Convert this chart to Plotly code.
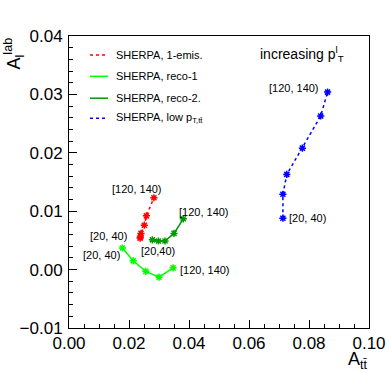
import plotly.graph_objects as go

# pT bins [20,40) ... [120,140)
red_x = [0.0237, 0.0238, 0.0240, 0.0251, 0.0258, 0.0283]
red_y = [0.0054, 0.0056, 0.0062, 0.0076, 0.0092, 0.0123]

reco1_x = [0.0178, 0.0214, 0.0256, 0.0300, 0.0347]
reco1_y = [0.0037, 0.0015, -0.0003, -0.0013, 0.0003]

reco2_x = [0.0278, 0.0298, 0.0320, 0.0350, 0.0381]
reco2_y = [0.0051, 0.0049, 0.0049, 0.0062, 0.0087]

blue_x = [0.0713, 0.0713, 0.0726, 0.0778, 0.0839, 0.0862]
blue_y = [0.0088, 0.0129, 0.0163, 0.0208, 0.0263, 0.0304]

FONT = "Liberation Sans"

series = [
    ("SHERPA, 1-emis.", red_x, red_y, "#ff0000", "dot"),
    ("SHERPA, reco-1", reco1_x, reco1_y, "#00ff00", "solid"),
    ("SHERPA, reco-2.", reco2_x, reco2_y, "#009900", "solid"),
    ("SHERPA, low p<sub>T,tt̄</sub>", blue_x, blue_y, "#0000ff", "dot"),
]

fig = go.Figure()
for name, xs, ys, color, dash in series:
    fig.add_trace(go.Scatter(
        x=xs, y=ys, mode="lines+markers", name=name, showlegend=False,
        line={"color": color, "dash": dash, "width": 1.5},
        marker={"symbol": "asterisk-open", "size": 6, "color": color,
                "line": {"color": color, "width": 1.5}},
    ))

# hand-drawn legend, ROOT style
legend_rows = [0.935, 0.862, 0.787, 0.718]
for (name, xs, ys, color, dash), yp in zip(series, legend_rows):
    fig.add_shape(type="line", xref="paper", yref="paper",
                  x0=0.07, x1=0.13, y0=yp, y1=yp,
                  line={"color": color, "dash": dash, "width": 1.5})
    fig.add_annotation(xref="paper", yref="paper", x=0.15, y=yp, text=name,
                       showarrow=False, xanchor="left", yanchor="middle",
                       font={"size": 11, "family": FONT, "color": "black"})

labels = [
    (0.0228, 0.0138, "[120, 140)", "center"),
    (0.0200, 0.0058, "[20, 40)", "right"),
    (0.0177, 0.0025, "[20, 40)", "right"),
    (0.0295, 0.0032, "[20,40)", "center"),
    (0.0360, 0.0099, "[120, 140)", "left"),
    (0.0363, 0.0000, "[120, 140)", "left"),
    (0.0841, 0.0311, "[120, 140)", "right"),
    (0.0728, 0.0089, "[20, 40)", "left"),
]
for x, y, t, anchor in labels:
    fig.add_annotation(x=x, y=y, text=t, showarrow=False, xanchor=anchor,
                       yanchor="middle",
                       font={"size": 11, "family": FONT, "color": "black"})

fig.add_annotation(x=0.0922, y=0.0369, text="increasing p<sup>l</sup><sub>T</sub>",
                   showarrow=False, xanchor="right", yanchor="middle",
                   font={"size": 14, "family": FONT, "color": "black"})

fig.add_annotation(xref="paper", yref="paper", x=-0.185, y=1.0,
                   text="A<sub>l</sub><sup>lab</sup>", textangle=-90,
                   showarrow=False, xanchor="center", yanchor="top",
                   font={"size": 18, "family": FONT, "color": "black"})
fig.add_annotation(xref="paper", yref="paper", x=1.003, y=-0.066,
                   text="A<sub>tt̄</sub>", showarrow=False,
                   xanchor="right", yanchor="top",
                   font={"size": 18, "family": FONT, "color": "black"})

axis_common = dict(
    showgrid=False, zeroline=False, showline=True, linecolor="black",
    linewidth=1, mirror=True, ticks="inside", tickcolor="black",
    ticklen=8, tickwidth=1, automargin=False,
    tickfont={"size": 17, "family": FONT, "color": "black"},
)
fig.update_xaxes(range=[0.0, 0.10], dtick=0.02, tick0=0, tickformat=".2f",
                 minor={"dtick": 0.005, "ticklen": 4, "ticks": "inside",
                        "tickcolor": "black"},
                 **axis_common)
fig.update_yaxes(range=[-0.01, 0.04], dtick=0.01, tick0=0, tickformat=".2f",
                 minor={"dtick": 0.002, "ticklen": 4, "ticks": "inside",
                        "tickcolor": "black"},
                 ticklabelstandoff=2,
                 **axis_common)

fig.update_layout(
    width=389, height=373,
    margin={"l": 69, "r": 20, "t": 36, "b": 45, "autoexpand": False},
    plot_bgcolor="white", paper_bgcolor="white",
    font={"family": FONT},
)

# page has a default body margin, drop it so the figure sits at 0,0
fig.write_html("out.html", config={"displayModeBar": False},
               post_script="document.body.style.margin='0';")
